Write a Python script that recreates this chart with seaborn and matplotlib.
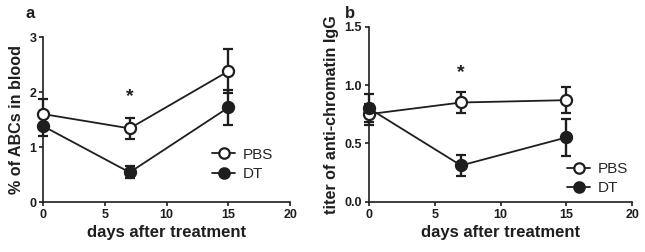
import matplotlib
matplotlib.use("Agg")
import matplotlib.pyplot as plt
import seaborn as sns
import pandas as pd
from matplotlib.lines import Line2D

days = [0, 7, 15]
groups = ["PBS", "DT"]

abc_pbs = [1.60, 1.34, 2.38]
abc_pbs_err = [0.28, 0.19, 0.40]
abc_dt = [1.38, 0.54, 1.72]
abc_dt_err = [0.18, 0.11, 0.32]

igg_pbs = [0.75, 0.85, 0.87]
igg_pbs_err = [0.09, 0.09, 0.11]
igg_dt = [0.80, 0.31, 0.55]
igg_dt_err = [0.12, 0.09, 0.16]

sns.set_theme(style="ticks")
plt.rcParams['font.family'] = ['Liberation Sans', 'DejaVu Sans']
plt.rcParams['font.weight'] = 'bold'

fig = plt.figure(figsize=(6.45, 2.52), dpi=100)
ax1 = fig.add_axes([0.067, 0.198, 0.383, 0.655])
ax2 = fig.add_axes([0.572, 0.200, 0.408, 0.694])

INK = "#1e1e1e"


def panel(ax, pbs, pbs_err, dt, dt_err, ylim, yticks, ylabel, star_y, legend_loc):
    df = pd.DataFrame({
        "day": days * 2,
        "value": pbs + dt,
        "group": [groups[0]] * 3 + [groups[1]] * 3,
    })
    for vals, errs in ((pbs, pbs_err), (dt, dt_err)):
        ax.errorbar(days, vals, yerr=errs, fmt="none", ecolor=INK,
                    elinewidth=1.7, capsize=3.8, capthick=1.7, clip_on=False, zorder=2)
    sns.lineplot(data=df, x="day", y="value", hue="group", style="group",
                 palette={"PBS": INK, "DT": INK},
                 markers={"PBS": "o", "DT": "o"}, dashes=False,
                 linewidth=1.3, markersize=8, ax=ax, legend=False, zorder=3,
                 clip_on=False)
    lines = ax.get_lines()
    for ln in lines:
        ln.set_markeredgewidth(1.6)
        ln.set_markeredgecolor(INK)
    lines[-2].set_markerfacecolor("white")
    lines[-1].set_markerfacecolor(INK)
    ax.set_xlim(0, 20)
    ax.set_ylim(*ylim)
    ax.set_xticks([0, 5, 10, 15, 20])
    ax.set_yticks(yticks)
    if isinstance(yticks[0], float):
        ax.set_yticklabels([f"{t:.1f}" for t in yticks])
    ax.tick_params(labelsize=9, width=1.2, length=3, pad=2, colors=INK)
    for lab in ax.get_xticklabels() + ax.get_yticklabels():
        lab.set_fontweight("bold")
    sns.despine(ax=ax)
    for s in ("left", "bottom"):
        ax.spines[s].set_linewidth(1.2)
        ax.spines[s].set_color(INK)
    ax.set_xlabel("days after treatment", fontsize=12, fontweight="bold", labelpad=3, color=INK)
    ax.set_ylabel(ylabel, fontsize=11.6, fontweight="bold", labelpad=4, color=INK)
    ax.text(7, star_y, "*", ha="center", va="center", fontsize=14, fontweight="bold", color=INK)
    h = [Line2D([], [], color=INK, lw=1.3, marker="o", markersize=7.5,
                markerfacecolor="white", markeredgecolor=INK, markeredgewidth=1.6),
         Line2D([], [], color=INK, lw=1.3, marker="o", markersize=7.5,
                markerfacecolor=INK, markeredgecolor=INK, markeredgewidth=1.6)]
    ax.legend(h, groups, loc="lower left", bbox_to_anchor=legend_loc, frameon=False,
              prop={"size": 11, "weight": "normal"}, handlelength=1.5,
              handletextpad=0.5, labelspacing=0.35, borderaxespad=0)
    return ax


panel(ax1, abc_pbs, abc_pbs_err, abc_dt, abc_dt_err, (0, 3), [0, 1, 2, 3],
      "% of ABCs in blood", 1.92, (0.66, 0.09))
panel(ax2, igg_pbs, igg_pbs_err, igg_dt, igg_dt_err, (0, 1.5), [0.0, 0.5, 1.0, 1.5],
      "titer of anti-chromatin IgG", 1.11, (0.73, 0.0))

fig.text(0.040, 0.948, "a", fontsize=12, fontweight="bold", va="center", color=INK)
fig.text(0.535, 0.948, "b", fontsize=12, fontweight="bold", va="center", color=INK)

fig.savefig("out.png", dpi=100)
